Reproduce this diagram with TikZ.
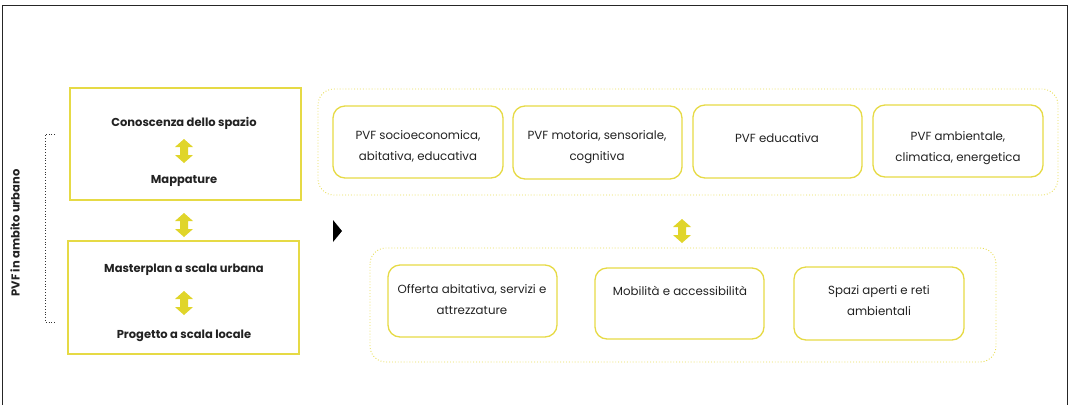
\documentclass[tikz,border=0pt]{standalone}
\usepackage{fontspec}
\setmainfont{Poppins}
\definecolor{ybox}{HTML}{E6DA45}
\definecolor{yarr}{HTML}{E0D52A}
\definecolor{ydot}{HTML}{E8DE55}
\definecolor{txt}{HTML}{222222}
\newcommand{\dblarr}[3]{%
  \fill[yarr] (#2,#3-12) -- (#2+9,#3-4) -- (#2+4,#3-4) -- (#2+4,#3+4) -- (#2+9,#3+4) -- (#2,#3+12) -- (#2-9,#3+4) -- (#2-4,#3+4) -- (#2-4,#3-4) -- (#2-9,#3-4) -- cycle;
  \coordinate (#1) at (#2,#3);}
\begin{document}
\begin{tikzpicture}[x=1pt,y=-1pt,
  lbox/.style={draw=ybox, line width=1.3pt},
  rbox/.style={draw=ybox, line width=1.3pt, rounded corners=12pt},
  cont/.style={draw=ydot, line width=0.9pt, dotted, rounded corners=16pt},
  btxt/.style={font=\fontsize{11.5}{14}\selectfont\bfseries, text=txt, inner sep=0pt},
  ntxt/.style={font=\fontsize{11.8}{21}\selectfont, text=txt, inner sep=0pt, align=center},
]
\useasboundingbox (0,0) rectangle (1073,405);
% frame
\draw[line width=1.4pt, draw=black!85] (2.5,405) -- (2.5,5.5) -- (1067.5,5.5) -- (1067.5,405);

% left boxes
\draw[lbox] (70,88) rectangle (301,200);
\draw[lbox] (68,241) rectangle (299,354);
\node[btxt] (t1) at (184,123) {Conoscenza dello spazio};
\node[btxt] (t2) at (184,181) {Mappature};
\node[btxt] (t3) at (184,270) {Masterplan a scala urbana};
\node[btxt] (t4) at (184,336) {Progetto a scala locale};
\dblarr{a1}{184}{151}
\dblarr{a2}{184}{225}
\dblarr{a3}{184}{303}

% bracket
\draw[line width=0.8pt, dotted, black!80] (55,134) -- (45,134) -- (45,322) -- (55,322);
\node[btxt, rotate=90] (vt) at (15,233) {PVF in ambito urbano};

% triangle
\fill[black] (333,220) -- (342,231) -- (333,242) -- cycle;

% top container
\draw[cont] (318,89) rectangle (1058,195);
\draw[rbox] (333,106) rectangle (503,178);
\draw[rbox] (513,106) rectangle (682,179);
\draw[rbox] (693,105) rectangle (862,178);
\draw[rbox] (873,105) rectangle (1043,177);
\node[ntxt] (p1) at (418,146) {PVF socioeconomica,\\abitativa, educativa};
\node[ntxt] (p2) at (597,147.5) {PVF motoria, sensoriale,\\cognitiva};
\node[ntxt] (p3) at (777,138) {PVF educativa};
\node[ntxt] (p4) at (958,148) {PVF ambientale,\\climatica, energetica};

\dblarr{a4}{682}{231}

% bottom container
\draw[cont] (370,248) rectangle (996,362);
\draw[rbox] (388,265) rectangle (557,337);
\draw[rbox] (595,268) rectangle (764,339);
\draw[rbox] (794,267) rectangle (964,340);
\node[ntxt] (q1) at (472,299.5) {Offerta abitativa, servizi e\\attrezzature};
\node[ntxt] (q2) at (680,291) {Mobilità e accessibilità};
\node[ntxt] (q3) at (879,300.5) {Spazi aperti e reti\\ambientali};
\end{tikzpicture}
\end{document}
